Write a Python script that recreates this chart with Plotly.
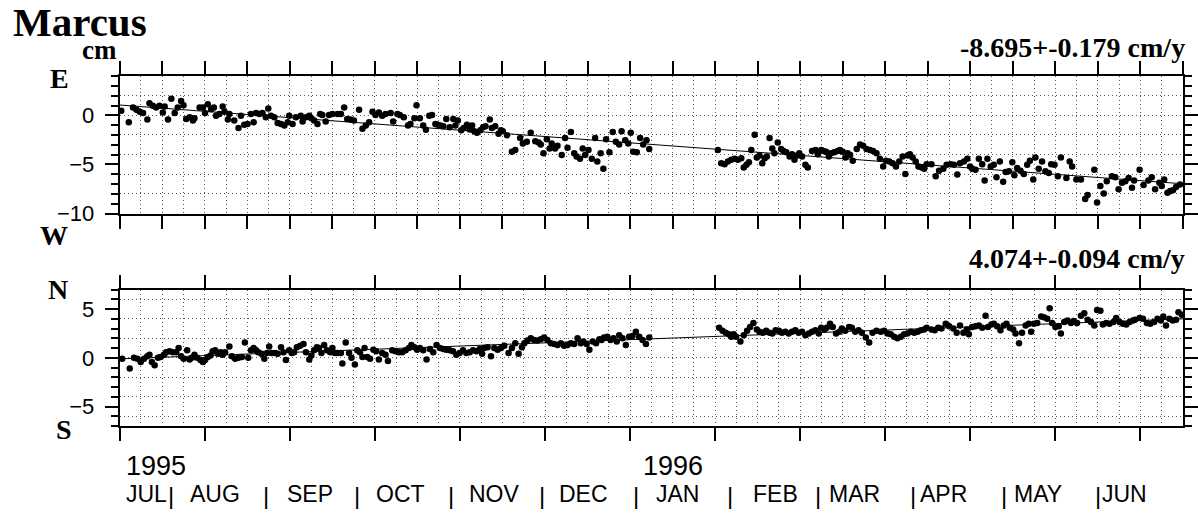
import plotly.graph_objects as go
from datetime import date

W, H = 1198, 522
ORIGIN = date(1995, 7, 15)   # day 0 of the time axis
SPAN_DAYS = 350

# ---------------- data (days since ORIGIN, cm) ----------------
east_day = [
    0.5, 3.0, 4.4, 5.5, 6.6, 7.7, 9.1, 9.8, 10.9, 12.0, 13.1, 14.2, 14.8, 15.9, 17.0,
    18.1, 19.1, 20.2, 21.0, 21.9, 23.0, 24.1, 24.6, 26.3, 27.4, 28.1, 29.0, 30.1, 31.0, 31.7,
    32.8, 33.9, 34.5, 35.6, 36.1, 37.7, 39.1, 39.9, 41.0, 42.1, 43.2, 44.1, 44.9, 46.0, 47.0,
    48.1, 48.9, 49.8, 50.9, 52.0, 53.1, 54.2, 55.3, 55.8, 56.9, 58.0, 59.6, 60.2, 61.3, 62.4,
    63.1, 64.0, 65.1, 66.0, 66.7, 67.8, 68.9, 70.0, 71.7, 72.8, 73.9, 74.9, 76.0, 77.1, 78.8,
    79.9, 81.0, 82.1, 83.2, 84.2, 85.3, 86.4, 87.5,
    89.2, 90.0, 91.4, 92.2, 93.5, 94.9, 95.7, 97.0, 97.7, 98.8, 99.9, 100.8, 101.9, 102.8, 103.9,
    104.7, 105.6, 106.5, 107.5, 108.6, 109.8, 110.5, 111.3, 112.4, 113.2, 114.3, 115.2, 116.0, 116.7, 117.6,
    118.7, 119.6, 120.4, 121.8, 122.5, 123.6, 124.7, 125.5, 126.1, 127.5, 129.1, 130.2, 131.8, 132.7, 134.0,
    135.3, 136.8, 137.9, 138.6, 139.5, 140.6, 141.5, 142.2, 143.3, 144.1, 145.5, 146.6, 147.4, 148.5, 149.6,
    150.4, 151.5, 152.4, 153.2, 154.3, 155.4, 156.5, 157.2, 158.3, 159.2, 160.1, 161.2, 162.3, 163.3, 164.4,
    165.2, 166.4, 167.4, 168.2, 169.0, 170.2, 171.3, 172.3, 173.4, 174.3,
    196.9, 198.0, 199.1, 200.2, 201.3, 202.4, 203.5, 204.6, 205.4, 206.3, 207.1, 207.9, 209.0, 209.7, 210.6,
    211.5, 212.3, 213.0, 213.9, 214.8, 215.5, 216.6, 217.7, 218.5, 219.4, 220.5, 221.3, 222.1, 222.9, 223.7,
    224.6, 225.7, 226.5, 227.9, 229.0, 229.8, 230.9, 231.6, 232.5, 233.4, 234.1, 235.2, 236.3, 237.1, 238.0,
    238.9, 239.6, 240.4, 241.3, 242.6, 243.7, 244.7, 245.8, 246.9, 248.0, 249.1, 250.2, 251.3, 252.2, 253.3,
    254.4, 255.5, 256.6, 257.7, 258.6, 259.4, 260.1, 261.0, 262.0, 262.9, 264.0, 264.8, 265.6,
    267.2, 268.6, 269.7, 271.1, 272.2, 273.5, 274.6, 275.7, 276.6, 277.9, 279.0, 279.9, 280.6, 281.7, 282.8,
    283.9, 284.7, 285.6, 286.7, 287.7, 288.6, 289.7, 290.8, 291.6, 292.7, 293.8, 294.5, 295.4, 296.5, 297.6,
    298.7, 299.6, 300.7, 301.4, 302.5, 303.6, 304.7, 305.8, 306.6, 307.7, 308.8, 309.8, 311.6, 312.7, 313.5,
    314.9, 316.4, 317.8, 318.6, 320.8, 321.7, 322.8, 323.9, 324.9, 326.6, 327.7, 328.8, 329.9, 331.0, 332.1,
    333.2, 333.9, 335.7, 337.0, 338.6, 339.7, 340.8, 342.2, 343.0, 343.8, 344.9, 345.8, 346.7, 347.7, 349.0,
]
east_cm = [
    0.47, -0.70, 0.80, 0.57, 0.37, 0.23, -0.43, 1.23, 0.97, 0.80, 0.97, 0.30, 0.90, -0.43, 1.70,
    0.23, 0.80, 1.47, 1.03, -0.37, -0.20, -0.53, -0.30, 0.80, 0.80, 0.23, 1.13, 0.63, 0.80, -0.03,
    0.13, 0.90, 0.37, -0.43, 0.13, -0.53, -1.30, -0.03, -0.97, -0.87, 0.13, -0.70, 0.23, 0.13, 0.23,
    -0.20, 0.70, -0.03, -0.20, -0.77, -0.87, -1.03, -0.70, -0.03, -0.87, -0.20, -0.03, -0.63, -0.20, -0.03,
    -0.30, -0.53, -0.87, 0.13, 0.03, -0.63, 0.03, 0.13, 0.13, 0.13, 0.80, -0.37, -0.43, -0.53, 0.57,
    -1.37, -1.03, -0.70, 0.37, 0.03, 0.30, -0.03, 0.13,
    0.23, -0.63, 0.13, 0.03, -0.20, -1.03, -0.87, -0.30, 1.03, -0.30, -1.03, -1.47, -0.03, 0.03, -0.87,
    -0.97, -1.03, -1.10, -0.37, -1.20, -0.37, -1.03, -0.53, -1.53, -1.30, -0.97, -1.43, -1.03, -1.63, -1.77,
    -1.53, -1.20, -1.10, -0.43, -1.30, -1.10, -1.87, -1.53, -1.63, -2.03, -3.70, -3.53, -2.30, -2.87, -2.70,
    -1.77, -2.63, -2.77, -2.97, -3.87, -2.43, -3.37, -2.87, -3.37, -3.10, -4.03, -2.30, -3.30, -1.70, -3.87,
    -4.20, -4.43, -3.37, -4.03, -3.53, -4.43, -2.30, -4.70, -3.87, -5.43, -2.43, -3.77, -1.70, -2.70, -2.97,
    -1.63, -2.53, -2.87, -1.77, -3.70, -3.77, -2.30, -2.97, -2.53, -3.43,
    -3.53, -4.87, -4.97, -4.70, -4.53, -4.43, -4.53, -4.37, -5.30, -5.03, -4.77, -3.53, -1.97, -4.30, -4.10,
    -4.87, -4.37, -4.20, -2.30, -3.37, -3.87, -2.77, -3.43, -3.63, -3.77, -4.20, -3.97, -4.53, -4.10, -3.87,
    -4.20, -5.03, -5.30, -3.63, -3.53, -3.97, -3.53, -3.63, -3.70, -4.20, -3.87, -3.77, -3.63, -3.53, -3.70,
    -4.30, -3.87, -4.03, -4.63, -3.43, -2.97, -3.10, -3.43, -3.53, -3.63, -3.87, -4.43, -5.20, -4.63, -4.70,
    -4.87, -5.20, -4.70, -4.20, -5.97, -4.10, -3.97, -4.30, -4.70, -5.20, -5.30, -5.43, -4.97,
    -4.97, -6.20, -5.63, -5.43, -5.03, -4.97, -5.03, -6.03, -4.87, -4.70, -4.43, -5.20, -5.43, -5.53, -4.43,
    -4.97, -6.63, -4.43, -5.20, -5.03, -6.30, -4.70, -6.77, -5.77, -5.70, -4.77, -6.10, -5.37, -5.63, -5.97,
    -5.03, -4.63, -6.53, -4.30, -5.43, -4.70, -5.70, -5.87, -4.97, -5.03, -6.20, -4.30, -6.37, -4.70, -5.20,
    -6.53, -6.53, -8.53, -8.10, -5.53, -8.87, -7.20, -7.97, -6.70, -6.20, -6.30, -7.53, -6.87, -6.70, -6.37,
    -7.37, -6.63, -5.53, -7.10, -6.63, -6.30, -7.53, -6.87, -7.20, -6.53, -7.87, -7.70, -7.63, -7.30, -7.03,
]

north_day = [
    0.8, 3.3, 4.7, 5.8, 6.9, 8.0, 9.1, 9.8, 10.6, 11.5, 12.6, 13.5, 14.6, 15.3, 16.4,
    17.5, 18.6, 19.4, 20.2, 21.1, 22.2, 23.0, 23.7, 24.6, 25.5, 26.6, 27.4, 28.1, 29.0, 29.9,
    30.6, 31.4, 32.3, 33.2, 33.9, 34.7, 36.1, 36.9, 38.0, 39.1, 40.2, 41.2, 42.3, 43.2, 44.1,
    44.9, 45.6, 46.7, 47.6, 48.5, 49.2, 50.0, 51.1, 52.0, 53.1, 53.9, 54.7, 55.8, 56.6, 57.4,
    58.3, 59.4, 60.5, 61.3, 62.4, 63.1, 64.0, 64.9, 65.6, 66.4, 67.3, 68.2, 69.3, 70.0, 70.8,
    71.7, 72.8, 73.3, 74.4, 75.5, 76.3, 77.4, 78.2, 79.1, 79.9, 80.6, 81.5, 82.4, 83.5, 84.4,
    85.3, 86.4, 87.5, 88.3,
    89.7, 90.8, 91.9, 93.0, 94.1, 95.2, 96.0, 97.0, 97.9, 98.8, 99.9, 101.0, 102.1, 103.2, 104.3,
    105.4, 106.5, 107.5, 108.6, 109.7, 110.8, 111.9, 113.0, 114.1, 115.2, 116.3, 117.4, 118.5, 119.3, 120.0,
    121.1, 122.2, 123.3, 124.4, 125.5, 126.6, 128.0, 129.1, 130.2, 131.3, 132.4, 133.2, 134.2, 135.3, 136.4,
    137.5, 138.6, 139.7, 140.8, 141.9, 143.0, 144.1, 145.2, 146.3, 147.4, 148.5, 149.6, 150.7, 151.8, 152.6,
    153.7, 154.6, 155.7, 156.8, 157.9, 158.6, 159.4, 160.5, 161.6, 162.5, 163.6, 164.4, 165.5, 166.6, 167.7,
    168.8, 169.9, 171.0, 172.1, 173.2, 174.3,
    197.3, 198.4, 199.5, 200.5, 201.3, 202.1, 202.9, 204.3, 205.4, 206.5, 207.5, 208.6, 209.7, 210.6, 211.7,
    212.8, 213.9, 214.8, 215.9, 217.0, 218.0, 219.1, 220.2, 221.3, 222.4, 223.5, 224.6, 225.7, 226.8, 227.9,
    229.0, 230.1, 230.9, 232.0, 232.7, 233.8, 234.7, 235.8, 236.9, 237.7, 238.8, 240.1, 241.0, 242.1, 243.2,
    244.3, 245.6, 246.7, 247.8, 249.1, 250.5, 251.6, 252.7, 253.8, 254.9, 256.0, 257.1, 258.2, 259.3, 260.4,
    261.5, 262.6, 263.7, 264.8, 265.6,
    267.2, 268.3, 269.4, 270.5, 271.9, 273.0, 274.4, 275.5, 276.6, 277.7, 278.8, 279.5, 280.6, 281.7, 282.8,
    283.9, 285.0, 285.8, 286.9, 287.7, 288.8, 289.9, 291.0, 291.9, 293.0, 294.1, 294.9, 296.0, 297.0, 298.2,
    299.2, 300.0, 300.9, 302.0, 303.3, 304.2, 305.3, 306.1, 306.9, 308.0, 309.1, 309.8, 310.9, 312.0, 313.1,
    314.0, 315.1, 316.4, 317.5, 318.6, 319.7, 320.8, 321.7, 322.8, 323.6, 324.7, 325.8, 327.1, 328.0, 329.1,
    330.2, 331.3, 332.4, 333.5, 334.2, 335.7, 336.8, 338.1, 339.2, 340.5, 341.6, 342.7, 343.5, 344.4, 345.5,
    346.6, 347.7, 348.5, 349.6,
]
north_cm = [
    -0.10, -1.10, 0.00, -0.10, -0.43, -0.10, 0.17, 0.33, -0.43, -0.77, 0.00, 0.10, 0.33, 0.57, 0.67,
    0.57, 0.57, 1.00, 0.17, -0.10, 0.77, -0.17, 0.00, 0.33, 0.00, -0.23, -0.43, -0.23, 0.10, 0.23,
    0.67, 0.77, 0.43, 0.57, 0.33, 0.57, 1.17, 0.17, -0.10, 0.00, 0.10, 1.57, 0.00, 0.77, 1.00,
    0.77, 0.57, 0.43, -0.10, 0.50, 1.17, 0.50, 0.50, 0.43, 1.10, 0.57, -0.23, 0.77, 0.50, 0.57,
    1.10, 1.23, 1.43, 0.57, -0.17, 0.23, 0.77, 1.10, 1.00, 0.50, 1.33, 0.77, 0.57, 1.00, 0.50,
    0.50, 0.50, -0.57, 1.57, 0.50, 0.00, -0.67, 0.77, 0.57, 0.10, 1.00, 0.10, -0.10, 0.83, 0.67,
    -0.17, 0.50, 0.33, -0.33,
    0.77, 0.67, 0.57, 0.57, 0.77, 1.00, 1.33, 1.10, 0.83, 1.00, 0.77, -0.17, 0.90, 0.57, 1.33,
    1.00, 0.90, 0.83, 0.77, 0.67, 0.33, 0.50, 0.77, 0.50, 0.57, 0.77, 0.67, 0.90, 0.43, 1.00,
    1.10, 0.17, 1.00, 0.83, 1.00, 1.23, 0.50, 1.00, 1.50, 0.43, 1.10, 1.50, 1.77, 2.00, 1.83,
    1.77, 1.90, 2.10, 1.83, 1.50, 1.43, 1.33, 1.50, 1.23, 1.33, 1.50, 1.43, 2.00, 1.50, 1.67,
    1.43, 0.83, 1.67, 1.50, 1.90, 1.83, 2.10, 2.17, 1.83, 2.00, 1.67, 2.33, 2.00, 1.33, 2.17,
    2.23, 2.67, 2.17, 1.83, 1.43, 2.10,
    3.10, 2.77, 2.57, 2.43, 2.17, 2.43, 2.17, 1.67, 2.33, 2.77, 3.17, 3.57, 2.90, 2.67, 2.57,
    2.77, 2.57, 2.50, 2.83, 2.77, 2.57, 2.67, 2.50, 2.67, 2.83, 2.57, 2.67, 2.33, 2.50, 2.67,
    2.83, 2.50, 3.10, 2.90, 3.10, 3.50, 3.17, 2.50, 2.67, 3.00, 2.77, 3.17, 3.10, 2.67, 2.83,
    2.57, 2.10, 1.57, 2.57, 2.77, 2.67, 2.77, 2.50, 2.43, 2.17, 2.00, 2.17, 2.43, 2.50, 2.67,
    2.57, 2.67, 2.83, 2.90, 3.10,
    2.90, 2.83, 3.10, 3.00, 3.50, 3.23, 3.00, 2.57, 3.33, 2.57, 2.90, 2.43, 3.17, 3.23, 3.33,
    3.10, 4.33, 3.17, 3.43, 3.50, 3.23, 2.83, 3.33, 3.50, 3.10, 2.90, 2.50, 1.50, 2.57, 3.33,
    3.50, 2.67, 3.50, 3.57, 4.23, 4.17, 4.00, 5.10, 3.57, 3.17, 3.23, 2.50, 3.67, 3.83, 3.57,
    3.77, 3.57, 4.33, 4.57, 3.90, 3.67, 3.33, 4.90, 4.83, 3.43, 3.57, 3.50, 3.67, 4.10, 3.67,
    3.50, 3.43, 3.67, 3.83, 3.90, 4.10, 4.00, 3.57, 3.50, 3.67, 4.00, 3.83, 4.23, 3.33, 4.00,
    3.83, 3.90, 4.67, 4.43,
]

trend_day = [0, SPAN_DAYS]
east_trend = [1.05, -6.97]
north_trend = [-0.10, 4.00]
east_rate = "-8.695+-0.179 cm/y"
north_rate = "4.074+-0.094 cm/y"

month_names = ["JUL", "AUG", "SEP", "OCT", "NOV", "DEC",
               "JAN", "FEB", "MAR", "APR", "MAY", "JUN"]
month_label_day = [8.9, 31.5, 62.7, 92.3, 123.5, 152.7, 183.5, 215.7, 241.9, 271.2, 302.4, 330.9]
month_starts = [date(1995, 8, 1), date(1995, 9, 1), date(1995, 10, 1), date(1995, 11, 1),
                date(1995, 12, 1), date(1996, 1, 1), date(1996, 2, 1), date(1996, 3, 1),
                date(1996, 4, 1), date(1996, 5, 1), date(1996, 6, 1), date(1996, 7, 1)]
year_labels = ["1995", "1996"]
year_label_day = [12.0, 182.0]

# ---------------- figure ----------------
def pxx(v):
    return v / W

def pxy(v):
    return 1 - v / H

XDOM = [pxx(120), pxx(1186)]
TOP_DOM = [pxy(219), pxy(78)]
BOT_DOM = [pxy(437), pxy(297)]
GRID = "#555555"
GRIDDASH = "1px,3px"
SANS = "Liberation Sans, Arial, sans-serif"
SERIF = "Liberation Serif, Times New Roman, serif"

n_e = min(len(east_day), len(east_cm))
n_n = min(len(north_day), len(north_cm))

fig = go.Figure()
fig.add_trace(go.Scatter(x=trend_day, y=east_trend, mode="lines",
                         line=dict(color="black", width=1), xaxis="x", yaxis="y",
                         showlegend=False, hoverinfo="skip"))
fig.add_trace(go.Scatter(x=east_day[:n_e], y=east_cm[:n_e], mode="markers",
                         marker=dict(color="black", size=6.5), xaxis="x", yaxis="y3",
                         showlegend=False))
fig.add_trace(go.Scatter(x=trend_day, y=north_trend, mode="lines",
                         line=dict(color="black", width=1), xaxis="x2", yaxis="y2",
                         showlegend=False, hoverinfo="skip"))
fig.add_trace(go.Scatter(x=north_day[:n_n], y=north_cm[:n_n], mode="markers",
                         marker=dict(color="black", size=6.5), xaxis="x2", yaxis="y4",
                         showlegend=False))


def xax(anchor, dtick):
    return dict(domain=XDOM, anchor=anchor, range=[0, SPAN_DAYS], tick0=0, dtick=dtick,
                showline=True, linewidth=2, linecolor="black", mirror="allticks",
                ticks="outside", ticklen=13, tickwidth=2, tickcolor="black",
                showticklabels=False, zeroline=False,
                showgrid=True, gridcolor=GRID, griddash=GRIDDASH, gridwidth=1,
                minor=dict(tick0=0, dtick=7, ticks="", showgrid=True,
                           gridcolor=GRID, griddash=GRIDDASH, gridwidth=1))


def ygrid(dom, rng, anchor):
    return dict(domain=dom, anchor=anchor, range=rng, tick0=0, dtick=2,
                showgrid=True, gridcolor=GRID, griddash=GRIDDASH, gridwidth=1,
                showticklabels=False, ticks="", showline=False, zeroline=False)


def yticks(over, rng, anchor):
    return dict(overlaying=over, anchor=anchor, side="left", range=rng, tick0=0, dtick=5,
                showline=True, linewidth=2, linecolor="black", mirror="allticks",
                ticks="outside", ticklen=13, tickwidth=2, tickcolor="black",
                showgrid=False, zeroline=False, ticklabelstandoff=6,
                tickfont=dict(family=SANS, size=22, color="black"),
                minor=dict(tick0=0, dtick=1, ticks="outside", ticklen=7, tickwidth=1.5,
                           tickcolor="black", showgrid=False))


fig.update_layout(
    width=W, height=H, autosize=False, margin=dict(l=0, r=0, t=0, b=0, pad=0),
    paper_bgcolor="white", plot_bgcolor="white", showlegend=False,
    xaxis=xax("y", 14), xaxis2=xax("y2", 28),
    yaxis=ygrid(TOP_DOM, [-10, 4], "x"), yaxis2=ygrid(BOT_DOM, [-7, 7], "x2"),
    yaxis3=yticks("y", [-10, 4], "x"), yaxis4=yticks("y2", [-7, 7], "x2"),
)

ann = []


def serif(text, x, y, size, xanchor="center"):
    ann.append(dict(text="<b>%s</b>" % text, x=pxx(x), y=pxy(y), xref="paper", yref="paper",
                    xanchor=xanchor, yanchor="middle", showarrow=False,
                    font=dict(family=SERIF, size=size, color="black")))


serif("Marcus", 11, 23, 41, "left")
serif("cm", 80, 51, 27, "left")
serif("E", 60, 80, 28)
serif("W", 54, 242, 28)
serif("N", 58, 297, 28)
serif("S", 64, 440, 28)
serif(east_rate, 1190, 49, 28, "right")
serif(north_rate, 1190, 265, 28, "right")

for name, d in zip(month_names, month_label_day):
    ann.append(dict(text=name, x=d, y=pxy(507), xref="x2", yref="paper",
                    xanchor="center", yanchor="middle", showarrow=False,
                    font=dict(family=SANS, size=23, color="black")))
for ms in month_starts:
    ann.append(dict(text="|", x=(ms - ORIGIN).days, y=pxy(508), xref="x2", yref="paper",
                    xanchor="center", yanchor="middle", showarrow=False,
                    font=dict(family=SANS, size=24, color="black")))
for yl, d in zip(year_labels, year_label_day):
    ann.append(dict(text=yl, x=d, y=pxy(478), xref="x2", yref="paper",
                    xanchor="center", yanchor="middle", showarrow=False,
                    font=dict(family=SANS, size=27, color="black")))

fig.update_layout(annotations=ann)

# Remove the page's default body margin and let the figure fill the browser
# viewport exactly (all positions above are fractions of the figure).
POST = (
    "document.documentElement.style.margin='0px';"
    "document.body.style.margin='0px';"
    "document.documentElement.style.overflow='hidden';"
    "document.body.style.overflow='hidden';"
    "var gd=document.getElementById('{plot_id}');"
    "var vh=window.innerHeight;"
    "if(gd && vh && Math.abs(vh-%d)>2){Plotly.relayout(gd,{height:vh});}" % H
)
fig.write_html("out.html", config={"displayModeBar": False, "responsive": False},
               post_script=POST)
